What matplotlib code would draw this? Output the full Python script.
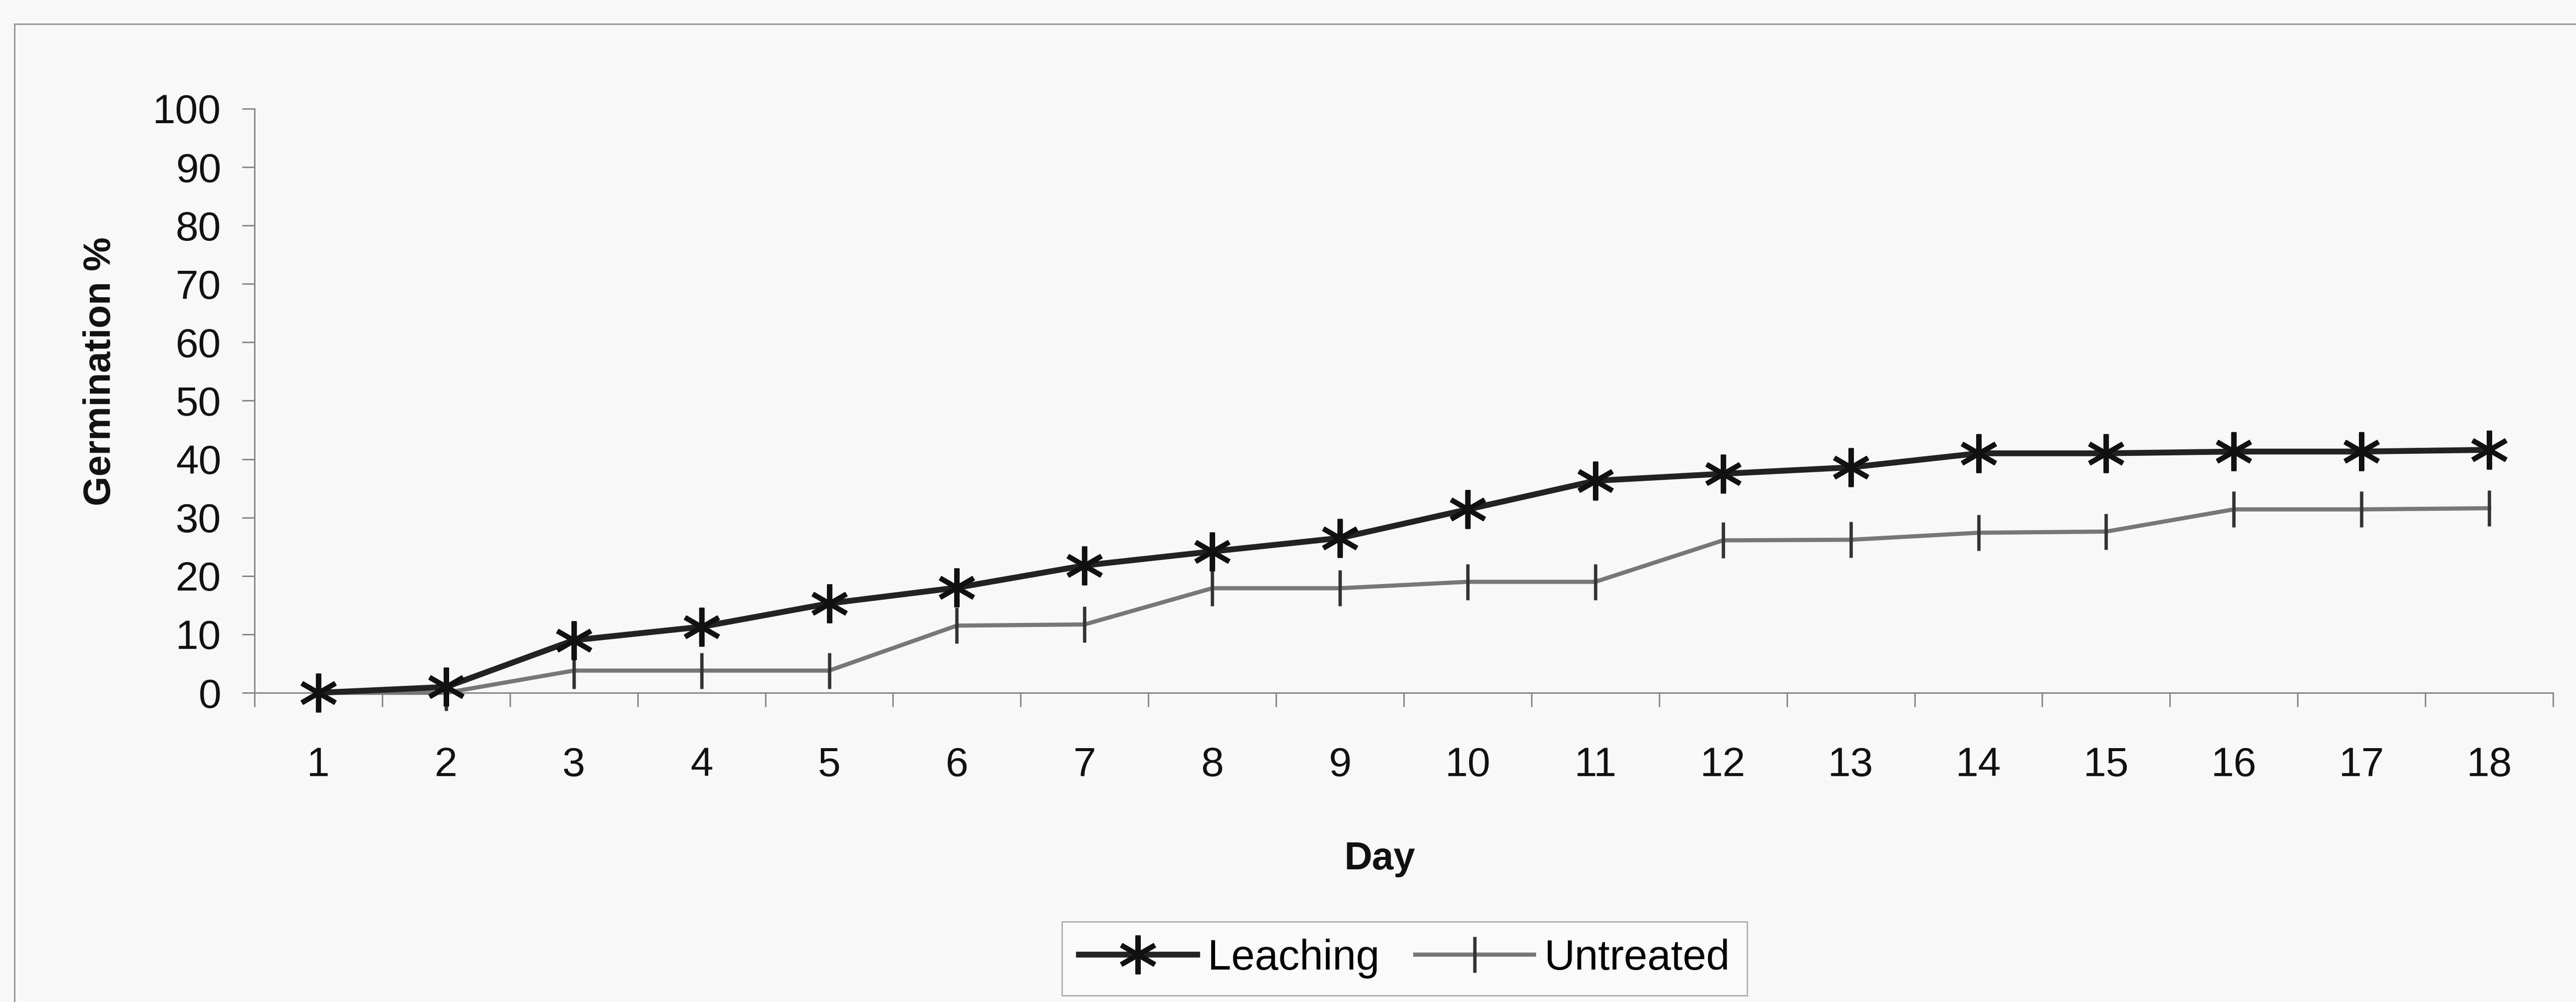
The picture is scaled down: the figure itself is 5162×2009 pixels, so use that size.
import matplotlib
matplotlib.use("Agg")
from matplotlib import pyplot as plt
from matplotlib.lines import Line2D
import numpy as np

days = list(range(1, 19))
day_labels = [str(d) for d in days]
leaching = [0, 1, 9, 11.3, 15.3, 18, 21.8, 24.2, 26.5, 31.4, 36.3, 37.5, 38.6, 41, 41, 41.3, 41.3, 41.6]
untreated = [0, 0, 3.8, 3.8, 3.8, 11.5, 11.7, 17.9, 17.9, 19, 19, 26.1, 26.2, 27.4, 27.6, 31.4, 31.4, 31.6]

plt.rcParams['font.family'] = ['Liberation Sans', 'DejaVu Sans']

fig = plt.figure(figsize=(25.81, 10.045), dpi=200, facecolor='#f8f8f8')
ax = fig.add_axes([0.0988, 0.3086, 0.8923, 0.5829])
ax.set_facecolor('none')

x = np.array(days)
ax.plot(x, leaching, color='#222222', linewidth=4.2,
        marker=(6, 2, 0), markersize=28, markeredgewidth=3.6,
        markeredgecolor='#111111', label='Leaching', clip_on=False, zorder=4)
ax.plot(x, untreated, color='#777777', linewidth=3.0,
        marker='|', markersize=26, markeredgewidth=2.4,
        markeredgecolor='#333333', label='Untreated', clip_on=False, zorder=3)

ax.set_xlim(0.5, 18.5)
ax.set_ylim(0, 100)
ax.set_yticks(range(0, 101, 10))
ax.set_xticks(x)
ax.set_xticklabels(day_labels)
ax.set_xticks(np.arange(0.5, 19, 1), minor=True)

for side in ['top', 'right']:
    ax.spines[side].set_visible(False)
for side in ['left', 'bottom']:
    ax.spines[side].set_color('#8a8a8a')
    ax.spines[side].set_linewidth(1.1)

ax.tick_params(axis='y', which='major', direction='out', length=9, width=1.1,
               color='#8a8a8a', pad=15, labelsize=29.5, labelcolor='#111111')
ax.tick_params(axis='x', which='major', length=0, pad=39,
               labelsize=29.5, labelcolor='#111111')
ax.tick_params(axis='x', which='minor', direction='out', length=10, width=1.1,
               color='#8a8a8a')

ax.set_ylabel('Germination %', fontsize=27.5, fontweight='bold', color='#111111')
ax.yaxis.set_label_coords(-0.0593, 0.55)
ax.set_xlabel('Day', fontsize=28, fontweight='bold', color='#111111')
ax.xaxis.set_label_coords(0.4896, -0.254)

leg = fig.legend(loc='center', bbox_to_anchor=(0.5452, 0.0433), ncol=2,
                 fontsize=30.5, frameon=True, fancybox=False, handlelength=2.8,
                 handletextpad=0.25, columnspacing=0.85, borderpad=0.4)
leg.get_frame().set_edgecolor('#9a9a9a')
leg.get_frame().set_linewidth(1.0)
leg.get_frame().set_facecolor('#fbfbfb')

# outer chart frame, only left and top edges fall inside the figure
fig.add_artist(Line2D([29 / 5162, 29 / 5162], [-0.05, 1 - 48 / 2009],
                      transform=fig.transFigure, color='#9a9a9a', linewidth=1.1))
fig.add_artist(Line2D([29 / 5162, 1.05], [1 - 48 / 2009, 1 - 48 / 2009],
                      transform=fig.transFigure, color='#9a9a9a', linewidth=1.1))

fig.savefig('out.png', dpi=200, facecolor=fig.get_facecolor())
